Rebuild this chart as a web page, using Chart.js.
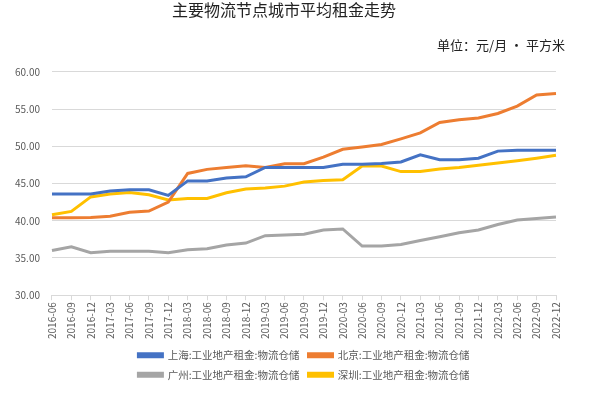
<!DOCTYPE html>
<html lang="zh">
<head>
  <meta charset="UTF-8" />
  <title>主要物流节点城市平均租金走势</title>
  <script src="https://cdn.jsdelivr.net/npm/chart.js"></script>
  <style>
    body {
      margin: 0;
      background: #fff;
    }
    .chart-container {
      width: 589px;
      height: 397px;
    }
  </style>
</head>
<body>
  <div class="chart-container">
    <canvas id="rentChart"></canvas>
  </div>

  <script>
    const labels = [
      '2016-06', '2016-09', '2016-12', '2017-03', '2017-06', '2017-09', '2017-12',
      '2018-03', '2018-06', '2018-09', '2018-12', '2019-03', '2019-06', '2019-09',
      '2019-12', '2020-03', '2020-06', '2020-09', '2020-12', '2021-03', '2021-06',
      '2021-09', '2021-12', '2022-03', '2022-06', '2022-09', '2022-12'
    ];
    const shanghai = [
      43.6, 43.6, 43.6, 44.0, 44.15, 44.15, 43.4, 45.35, 45.35, 45.75, 45.9, 47.15, 47.15, 47.15,
      47.15, 47.6, 47.6, 47.7, 47.9, 48.85, 48.2, 48.2, 48.4, 49.35, 49.45, 49.45, 49.45
    ];
    const beijing = [
      40.4, 40.4, 40.45, 40.6, 41.15, 41.3, 42.5, 46.35, 46.9, 47.15, 47.4, 47.15, 47.65, 47.65,
      48.55, 49.6, 49.9, 50.25, 51.0, 51.8, 53.2, 53.55, 53.8, 54.4, 55.4, 56.9, 57.1
    ];
    const guangzhou = [
      36.0, 36.5, 35.7, 35.9, 35.9, 35.9, 35.7, 36.1, 36.25, 36.75, 37.0, 38.0, 38.1, 38.2,
      38.75, 38.9, 36.6, 36.6, 36.8, 37.35, 37.85, 38.4, 38.75, 39.5, 40.1, 40.3, 40.5
    ];
    const shenzhen = [
      40.8, 41.25, 43.2, 43.6, 43.8, 43.5, 42.8, 43.0, 43.0, 43.75, 44.25, 44.4, 44.65, 45.2,
      45.4, 45.5, 47.35, 47.35, 46.6, 46.6, 46.95, 47.15, 47.45, 47.75, 48.05, 48.4, 48.8
    ];
    const seriesNames = [
      '上海:工业地产租金:物流仓储',
      '北京:工业地产租金:物流仓储',
      '广州:工业地产租金:物流仓储',
      '深圳:工业地产租金:物流仓储'
    ];
    const colors = ['#4472C4', '#ED7D31', '#A5A5A5', '#FFC000'];

    const cjk = "'Noto Sans CJK SC', 'Noto Sans', sans-serif";

    const makeSet = (i, values) => ({
      label: seriesNames[i],
      data: values,
      borderColor: colors[i],
      backgroundColor: colors[i],
      borderWidth: 3,
      pointRadius: 0,
      tension: 0,
      fill: false
    });

    const data = {
      labels: labels,
      datasets: [
        makeSet(0, shanghai),
        makeSet(1, beijing),
        makeSet(2, guangzhou),
        makeSet(3, shenzhen)
      ]
    };

    const config = {
      type: 'line',
      data: data,
      options: {
        responsive: true,
        maintainAspectRatio: false,
        animation: false,
        layout: {
          padding: { left: 3, right: 24, top: 0, bottom: 7 }
        },
        plugins: {
          title: {
            display: true,
            text: '主要物流节点城市平均租金走势',
            color: '#222',
            font: { family: cjk, size: 16, weight: 'normal' },
            padding: { top: 0, bottom: 18 }
          },
          subtitle: {
            display: true,
            text: '单位：元/月 • 平方米',
            align: 'end',
            color: '#222',
            font: { family: cjk, size: 13, weight: 'normal' },
            padding: { top: 0, bottom: 19 }
          },
          legend: {
            position: 'bottom',
            fullSize: false,
            labels: {
              boxWidth: 24,
              boxHeight: 3,
              padding: 9,
              color: '#595959',
              font: { family: cjk, size: 10.5 }
            }
          },
          tooltip: { enabled: false }
        },
        scales: {
          x: {
            offset: false,
            grid: {
              drawOnChartArea: false,
              drawTicks: true,
              tickLength: 5,
              color: '#d9d9d9'
            },
            border: { color: '#d9d9d9' },
            ticks: {
              autoSkip: false,
              minRotation: 90,
              maxRotation: 90,
              padding: 2,
              color: '#595959',
              font: { family: cjk, size: 10 }
            }
          },
          y: {
            min: 30,
            max: 60,
            grid: {
              color: '#d9d9d9',
              drawTicks: false
            },
            border: { display: false },
            ticks: {
              stepSize: 5,
              padding: 12,
              color: '#595959',
              font: { family: cjk, size: 10 },
              callback: v => v.toFixed(2)
            }
          },
          // empty right-hand spacer so the plot ends where the reference ends
          yRight: {
            position: 'right',
            min: 30,
            max: 60,
            grid: { display: false },
            border: { display: false },
            ticks: { display: false },
            afterFit: scale => { scale.width = 9; }
          }
        }
      }
    };

    const ctx = document.getElementById('rentChart').getContext('2d');
    const rentChart = new Chart(ctx, config);
  </script>
</body>
</html>
